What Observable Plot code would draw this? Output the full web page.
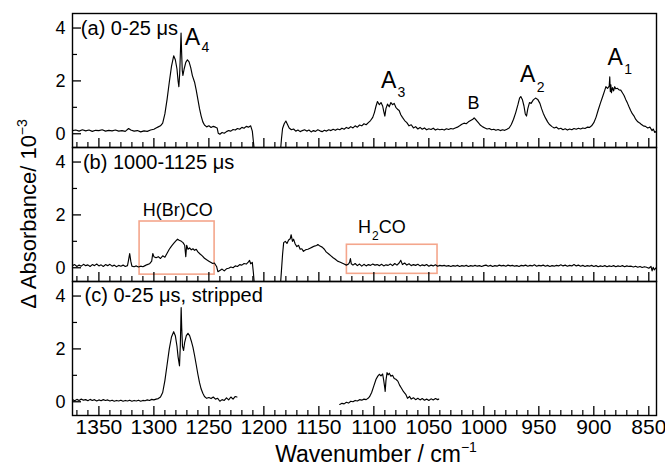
<!DOCTYPE html>
<html><head><meta charset="utf-8">
<script src="https://cdn.jsdelivr.net/npm/d3@7"></script>
<script src="https://cdn.jsdelivr.net/npm/@observablehq/plot@0.6"></script>
<style>body{margin:0;background:#fff}#chart{width:665px;height:469px}</style>
</head><body><div id="chart"></div>
<script>
const panels = ["a", "b", "c"];
const panelLabels = ["(a) 0-25 μs", "(b) 1000-1125 μs", "(c) 0-25 μs, stripped"];
const panelLabelX = [1366.4, 1364.5, 1363];
const panelLabelY = [3.96, 3.98, 4.02];

const xMajorTicks = [1350, 1300, 1250, 1200, 1150, 1100, 1050, 1000, 950, 900, 850];
const xMinorTicks = [1370, 1360, 1340, 1330, 1320, 1310, 1290, 1280, 1270, 1260, 1240, 1230, 1220, 1210,
  1190, 1180, 1170, 1160, 1140, 1130, 1120, 1110, 1090, 1080, 1070, 1060, 1040, 1030, 1020, 1010,
  990, 980, 970, 960, 940, 930, 920, 910, 890, 880, 870, 860];
const yMajorTicks = [0, 2, 4];
const yMinorTicks = [1, 3];

// panel (a) 0-25 us
const specA1 = [[1374,0.12],[1371,0.14],[1368,0.10],[1365,0.15],[1362,0.11],[1359,0.14],[1356,0.09],[1353,0.13],[1350,0.12],[1347,0.15],[1344,0.10],[1341,0.13],[1338,0.11],[1335,0.14],[1332,0.10],[1329,0.12],[1326,0.09],[1323,0.20],[1321,0.14],[1318,0.10],[1315,0.12],[1312,0.07],[1309,0.11],[1306,0.09],[1303,0.14],[1300,0.17],[1298,0.22],[1296,0.26],[1294,0.30],[1292,0.40],[1290,0.75],[1288,1.30],[1286,1.95],[1284,2.55],[1282,2.95],[1280.5,2.80],[1279,2.45],[1278,2.00],[1277.3,1.78],[1276.5,2.30],[1275.8,3.20],[1275.3,3.81],[1274.8,3.10],[1274.2,2.40],[1273.6,2.21],[1272.5,2.45],[1271,2.70],[1269.5,2.80],[1268,2.72],[1266.5,2.50],[1265,2.20],[1263,1.95],[1261.5,1.65],[1260,1.30],[1258.5,0.95],[1257,0.67],[1255.5,0.45],[1254,0.33],[1252,0.26],[1250,0.30],[1248,0.24],[1246,0.28],[1244,0.25],[1242.5,0.22],[1241.5,0.02],[1240,-0.02],[1238,0.05],[1236,0.02],[1234,0.08],[1232,0.12],[1230,0.10],[1228,0.16],[1226,0.14],[1224,0.20],[1222,0.17],[1220,0.24],[1218,0.21],[1216,0.28],[1214,0.25],[1212,0.30],[1210.5,0.10],[1209.5,-0.3],[1208.5,-0.7]];
const specA2 = [[1185,-0.7],[1184,-0.2],[1183,0.2],[1181.5,0.38],[1180,0.48],[1178.5,0.35],[1177,0.22],[1175,0.15],[1173,0.18],[1171,0.10],[1169,0.14],[1167,0.08],[1165,0.12],[1163,0.15],[1161,0.10],[1159,0.14],[1157,0.07],[1155,0.12],[1153,0.09],[1151,0.15],[1149,0.11],[1147,0.08],[1145,0.13],[1143,0.10],[1141,0.15],[1139,0.12],[1137,0.17],[1135,0.13],[1133,0.18],[1131,0.15],[1129,0.21],[1127,0.17],[1125,0.24],[1123,0.20],[1121,0.27],[1119,0.22],[1117,0.30],[1115,0.25],[1113,0.33],[1111,0.30],[1109,0.38],[1107,0.34],[1105,0.42],[1103,0.50],[1101,0.62],[1099.5,0.80],[1098,1.05],[1096.7,1.22],[1095,1.10],[1093.5,1.18],[1092,1.05],[1091,0.85],[1090,0.67],[1089,0.95],[1087.6,1.12],[1086,1.02],[1084.5,1.18],[1083,1.10],[1081.5,1.15],[1080,1.00],[1078.5,0.93],[1077,0.88],[1075.5,0.72],[1074,0.62],[1072,0.50],[1070,0.42],[1068,0.30],[1066,0.34],[1064,0.22],[1062,0.27],[1060,0.18],[1058,0.24],[1056,0.17],[1054,0.22],[1052,0.15],[1050,0.19],[1048,0.16],[1046,0.21],[1044,0.14],[1042,0.18],[1040,0.15],[1038,0.17],[1036,0.14],[1034,0.19],[1032,0.16],[1030,0.20],[1028,0.18],[1026,0.22],[1024,0.25],[1022,0.30],[1020,0.36],[1018,0.40],[1016,0.38],[1014,0.45],[1012,0.50],[1010,0.55],[1008.8,0.60],[1007,0.52],[1005,0.42],[1003,0.32],[1001,0.26],[999,0.22],[997,0.18],[995,0.20],[993,0.15],[991,0.17],[989,0.13],[987,0.16],[985,0.12],[983,0.15],[981,0.13],[979,0.17],[977,0.22],[975,0.35],[973,0.55],[971,0.80],[969,1.10],[967.5,1.35],[966.4,1.41],[965,1.30],[963.5,1.05],[962.3,0.75],[961.2,0.67],[960,0.95],[958.5,1.18],[957,1.15],[955,1.28],[953,1.35],[951,1.30],[949,1.15],[947.5,0.95],[946,0.78],[944,0.60],[942,0.45],[940.5,0.36],[938,0.27],[936,0.22],[934,0.25],[932,0.18],[930,0.21],[928,0.15],[926,0.19],[924,0.14],[922,0.18],[920,0.15],[918,0.20],[916,0.17],[914,0.21],[912,0.18],[910,0.22],[908,0.20],[906,0.25],[904,0.24],[902,0.30],[900,0.42],[898,0.62],[896,0.90],[894,1.16],[892,1.40],[890,1.65],[889,1.78],[887.5,1.72],[886,1.80],[885.5,2.15],[885,1.60],[884.5,1.85],[884,1.55],[883,1.75],[882,1.62],[881,1.78],[880,1.70],[878.5,1.72],[877,1.66],[875.5,1.65],[874,1.55],[872.5,1.45],[871,1.30],[869.4,1.16],[868,1.02],[866.5,0.88],[865,0.76],[863.4,0.67],[862,0.55],[860,0.45],[858,0.40],[857,0.36],[855,0.30],[853,0.28],[851,0.22],[849,0.25],[847,0.12],[846,0.18],[844.5,0.05],[843,0.10]];

// panel (b) 1000-1125 us
const specB1 = [[1374,0.08],[1372,0.12],[1370,0.05],[1368,0.10],[1366,0.06],[1364,0.13],[1362,0.08],[1360,0.11],[1358,0.05],[1356,0.12],[1354,0.08],[1352,0.14],[1350,0.07],[1348,0.11],[1346,0.05],[1344,0.12],[1342,0.08],[1340,0.13],[1338,0.06],[1336,0.10],[1334,0.04],[1332,0.09],[1330,0.06],[1328,0.10],[1326,0.05],[1324,0.08],[1323,0.30],[1322,0.54],[1321,0.25],[1320,0.06],[1318,0.04],[1316,0.07],[1314,0.03],[1312,0.06],[1310,0.04],[1308,0.08],[1306,0.12],[1304,0.15],[1302,0.25],[1301,0.54],[1300,0.42],[1298,0.38],[1296,0.42],[1294,0.35],[1292,0.45],[1290,0.40],[1288,0.55],[1286,0.70],[1284,0.82],[1282,0.92],[1280,1.02],[1278.5,1.08],[1277,1.04],[1275,1.00],[1273.5,0.95],[1272,0.85],[1271,0.42],[1270.2,0.85],[1269,0.70],[1267.5,0.75],[1266,0.68],[1264.5,0.72],[1263,0.66],[1261.5,0.70],[1260,0.60],[1258,0.52],[1256,0.45],[1254,0.36],[1252,0.30],[1250,0.25],[1248,0.20],[1246.5,0.16],[1245,0.18],[1243,0.05],[1241.8,-0.15],[1240,-0.10],[1238,-0.05],[1236,-0.12],[1234,-0.04],[1232,-0.02],[1230,0.03],[1228,0.00],[1226,0.07],[1224,0.05],[1222,0.12],[1220,0.10],[1218,0.16],[1216,0.14],[1214,0.22],[1213,0.28],[1212,0.15],[1210.5,0.20],[1209.5,-0.2],[1208.5,-0.7]];
const specB2 = [[1185,-0.7],[1184,-0.1],[1183,0.5],[1182,0.95],[1180.5,1.00],[1179,0.92],[1177.5,1.05],[1176,1.10],[1175.2,1.25],[1174,1.00],[1173,1.08],[1171.5,0.90],[1170,0.80],[1168.5,0.85],[1167,0.70],[1165.5,0.72],[1164,0.62],[1162,0.68],[1160,0.70],[1158,0.74],[1156,0.78],[1154,0.82],[1152,0.84],[1150.9,0.88],[1149,0.82],[1147,0.78],[1145,0.70],[1143.4,0.60],[1141,0.52],[1139,0.45],[1137,0.38],[1135,0.32],[1133,0.25],[1131,0.22],[1129,0.18],[1127,0.14],[1125,0.10],[1123,0.14],[1122,0.22],[1121.3,0.35],[1120.5,0.15],[1119,0.10],[1117,0.16],[1115,0.08],[1113,0.14],[1111,0.06],[1109,0.13],[1107,0.07],[1105,0.12],[1103,0.09],[1101,0.14],[1099,0.10],[1097,0.12],[1095,0.08],[1093,0.13],[1091,0.07],[1089,0.11],[1087,0.09],[1085,0.14],[1083,0.08],[1081,0.16],[1079,0.10],[1077,0.18],[1075.5,0.28],[1074,0.12],[1072,0.18],[1070,0.10],[1068,0.15],[1066,0.08],[1064,0.12],[1062,0.09],[1060,0.13],[1058,0.07],[1056,0.11],[1054,0.08],[1052,0.12],[1050,0.06],[1048,0.10],[1046,0.07],[1044,0.11],[1042,0.06],[1040,0.09],[1038,0.07],[1036,0.09],[1034,0.06],[1032,0.08],[1030,0.05],[1028,0.08],[1026,0.06],[1024,0.09],[1022,0.05],[1020,0.08],[1018,0.06],[1016,0.09],[1014,0.05],[1012,0.08],[1010,0.06],[1008,0.09],[1006,0.06],[1004,0.08],[1002,0.05],[1000,0.08],[998,0.10],[996,0.06],[994,0.09],[992,0.05],[990,0.08],[988,0.06],[986,0.10],[984,0.07],[982,0.09],[980,0.06],[978,0.10],[976,0.07],[974,0.09],[972,0.06],[970,0.08],[968,0.05],[966,0.09],[964,0.07],[962,0.10],[960,0.06],[958,0.09],[956,0.07],[954,0.11],[952,0.06],[950,0.09],[948,0.07],[946,0.10],[944,0.06],[942,0.09],[940,0.05],[938,0.08],[936,0.06],[934,0.09],[932,0.07],[930,0.11],[928,0.07],[926,0.10],[924,0.06],[922,0.09],[920,0.07],[918,0.12],[916,0.07],[914,0.10],[912,0.06],[910,0.09],[908,0.05],[906,0.08],[904,0.06],[902,0.09],[900,0.05],[898,0.08],[896,0.04],[894,0.07],[892,0.05],[890,0.08],[888,0.04],[886,0.07],[884,0.05],[882,0.08],[880,0.04],[878,0.07],[876,0.05],[874,0.08],[872,0.04],[870,0.07],[868,0.05],[866,0.06],[864,0.03],[862,0.06],[860,0.02],[858,0.05],[856,0.01],[854,0.04],[852,0.02],[850,-0.02],[848,0.05],[847,-0.12],[846,0.02],[845,-0.08],[843.5,0.00]];

// panel (c) 0-25 us, stripped
const specC1 = [[1374,0.08],[1372,0.04],[1370,0.09],[1368,0.05],[1366,0.10],[1364,0.06],[1362,0.08],[1360,0.04],[1358,0.09],[1356,0.05],[1354,0.08],[1352,0.03],[1350,0.07],[1348,0.04],[1346,0.08],[1344,0.05],[1342,0.07],[1340,0.03],[1338,0.06],[1336,0.02],[1334,0.05],[1332,0.03],[1330,0.06],[1328,0.02],[1326,0.05],[1324,0.03],[1322,0.06],[1320,0.02],[1318,0.05],[1316,0.03],[1314,0.06],[1312,0.02],[1310,0.05],[1308,0.04],[1306,0.07],[1304,0.05],[1302,0.09],[1300,0.07],[1298,0.10],[1296,0.12],[1294,0.18],[1292,0.35],[1290,0.80],[1288,1.40],[1286,2.00],[1284,2.45],[1282,2.65],[1280.5,2.50],[1279,2.10],[1278,1.70],[1276.7,1.36],[1276,2.10],[1275.5,3.00],[1275.2,3.56],[1274.7,2.80],[1274,2.10],[1273,1.94],[1272,2.25],[1270.5,2.50],[1269,2.59],[1267.5,2.50],[1266,2.30],[1264.5,2.07],[1263,1.75],[1261.5,1.40],[1260,1.04],[1258.5,0.72],[1257,0.48],[1255.5,0.32],[1254,0.20],[1252,0.13],[1250,0.16],[1248,0.12],[1246,0.18],[1244,0.10],[1242,0.13],[1240,0.02],[1238,0.08],[1236,0.05],[1234,0.15],[1232,0.07],[1230,0.18],[1228,0.10],[1226,0.20],[1224.5,0.18]];
const specC2 = [[1131,-0.10],[1129,-0.06],[1127,-0.08],[1125,-0.02],[1123,-0.05],[1121,0.02],[1119,0.00],[1117,0.05],[1115,0.03],[1113,0.08],[1111,0.06],[1109,0.10],[1107,0.08],[1105,0.14],[1103.9,0.19],[1102,0.35],[1100,0.60],[1098,0.85],[1096.4,0.97],[1095,1.04],[1093.5,0.98],[1092,1.05],[1091,0.80],[1090,0.50],[1089.7,0.39],[1089,0.80],[1088,1.10],[1087,1.02],[1086,1.08],[1084.5,0.97],[1083,1.00],[1081.5,0.88],[1080,0.85],[1078.2,0.78],[1076.5,0.62],[1075,0.52],[1073,0.38],[1071,0.28],[1069.4,0.13],[1067.5,0.20],[1066,0.10],[1064,0.15],[1062,0.08],[1060,0.13],[1058,0.07],[1056,0.12],[1054,0.06],[1052,0.10],[1050,0.05],[1048,0.11],[1046,0.07],[1044,0.12],[1042,0.08],[1041,0.10]];

// peak annotations in panel (a)
const peakNames = ["A", "A", "A", "A"];
const peakX = [1272, 1093.6, 967, 887.5];
const peakY = [3.64, 2.0, 2.25, 2.88];
const peakSubs = ["4", "3", "2", "1"];
const peakSubX = [1256.8, 1078.4, 951.8, 872.3];
const peakSubY = [3.26, 1.56, 1.75, 2.44];
const bandB = {label: "B", x: 1009.5, y: 1.16};

// panel (b) boxes and labels
const boxNames = ["H(Br)CO", "H2CO"];
const boxX1 = [1313, 1124.5];
const boxX2 = [1244.8, 1042.1];
const boxY1 = [-0.26, -0.23];
const boxY2 = [1.75, 0.87];
const h2coParts = ["H", "2", "CO"];
const h2coX = [1114.5, 1101.6, 1095.6];
const h2coY = [1.52, 1.2, 1.52];

const rows = [];
[[specA1, "a", "a1"], [specA2, "a", "a2"], [specB1, "b", "b1"], [specB2, "b", "b2"], [specC1, "c", "c1"], [specC2, "c", "c2"]]
  .forEach(([s, p, seg]) => s.forEach(([x, y]) => rows.push({panel: p, seg, x, y})));
const labelRows = panels.map((p, i) => ({panel: p, text: panelLabels[i], x: panelLabelX[i], y: panelLabelY[i]}));
const peakRows = peakNames.map((n, i) => ({panel: "a", text: n, x: peakX[i], y: peakY[i], sub: peakSubs[i], sx: peakSubX[i], sy: peakSubY[i]}));
const boxRows = boxNames.map((n, i) => ({panel: "b", x1: boxX1[i], x2: boxX2[i], y1: boxY1[i], y2: boxY2[i]}));
const h2coRows = h2coParts.map((t, i) => ({panel: "b", t, x: h2coX[i], y: h2coY[i], size: i === 1 ? 12 : 18}));

const W = 665, H = 469, mL = 72, mR = 9, mT = 13, mB = 54;
const facetH = (H - mT - mB) / 3, facetW = W - mL - mR;
const font = "Liberation Sans, Arial, Helvetica, sans-serif";

const svg = Plot.plot({
  width: W, height: H,
  marginLeft: mL, marginRight: mR, marginTop: mT, marginBottom: mB,
  style: {fontFamily: font, background: "#ffffff", color: "black"},
  fy: {domain: panels, padding: 0, axis: null, round: false},
  x: {domain: [1374, 843], axis: null},
  y: {domain: [-0.52, 4.55], axis: null},
  marks: [
    Plot.rect(boxRows, {x1: "x1", x2: "x2", y1: "y1", y2: "y2", fy: "panel", fill: "none", stroke: "#f4a68c", strokeWidth: 1.6}),
    Plot.tickX(xMinorTicks, {x: d => d, insetTop: facetH - 5, stroke: "black", strokeWidth: 1.2}),
    Plot.tickX(xMajorTicks, {x: d => d, insetTop: facetH - 9, stroke: "black", strokeWidth: 1.3}),
    Plot.tickY(yMinorTicks, {y: d => d, insetRight: facetW - 5, stroke: "black", strokeWidth: 1.2}),
    Plot.tickY(yMajorTicks, {y: d => d, insetRight: facetW - 9, stroke: "black", strokeWidth: 1.3}),
    Plot.text(yMajorTicks, {y: d => d, text: d => String(d), frameAnchor: "left", dx: -7, textAnchor: "end", fontSize: 18, fill: "black"}),
    Plot.text(xMajorTicks, {x: d => d, text: d => String(d), fy: () => "c", frameAnchor: "bottom", lineAnchor: "top", dy: 4, fontSize: 21, fill: "black"}),
    Plot.line(rows, {x: "x", y: "y", z: "seg", fy: "panel", stroke: "black", strokeWidth: 1.15, clip: true}),
    Plot.text(labelRows, {x: "x", y: "y", text: "text", fy: "panel", textAnchor: "start", fontSize: 20, fill: "black"}),
    Plot.text(peakRows, {x: "x", y: "y", text: "text", fy: "panel", textAnchor: "start", fontSize: 23, fill: "black"}),
    Plot.text(peakRows, {x: "sx", y: "sy", text: "sub", fy: "panel", textAnchor: "start", fontSize: 14, fill: "black"}),
    Plot.text([bandB], {x: "x", y: "y", text: "label", fy: () => "a", textAnchor: "middle", fontSize: 18, fill: "black"}),
    Plot.text([{t: "H(Br)CO"}], {x: () => 1278.2, y: () => 2.16, text: "t", fy: () => "b", textAnchor: "middle", fontSize: 18, fill: "black"}),
    Plot.text(h2coRows, {x: "x", y: "y", text: "t", fy: "panel", fontSize: "size", textAnchor: "start", fill: "black"}),
    Plot.frame({stroke: "black", strokeWidth: 1.4})
  ]
});

const s = d3.select(svg);
const yl = s.append("text")
  .attr("transform", "translate(36,214) rotate(-90)")
  .attr("text-anchor", "middle")
  .attr("font-family", font).attr("font-size", 22).attr("fill", "black");
yl.append("tspan").text("Δ Absorbance/ 10");
yl.append("tspan").attr("font-size", 14).attr("dy", -9).text("−3");

const xl = s.append("text")
  .attr("x", 376).attr("y", 462)
  .attr("text-anchor", "middle")
  .attr("font-family", font).attr("font-size", 23).attr("fill", "black");
xl.append("tspan").text("Wavenumber / cm");
xl.append("tspan").attr("font-size", 14).attr("dy", -10).text("−1");

document.getElementById("chart").appendChild(svg);
</script>
</body></html>
